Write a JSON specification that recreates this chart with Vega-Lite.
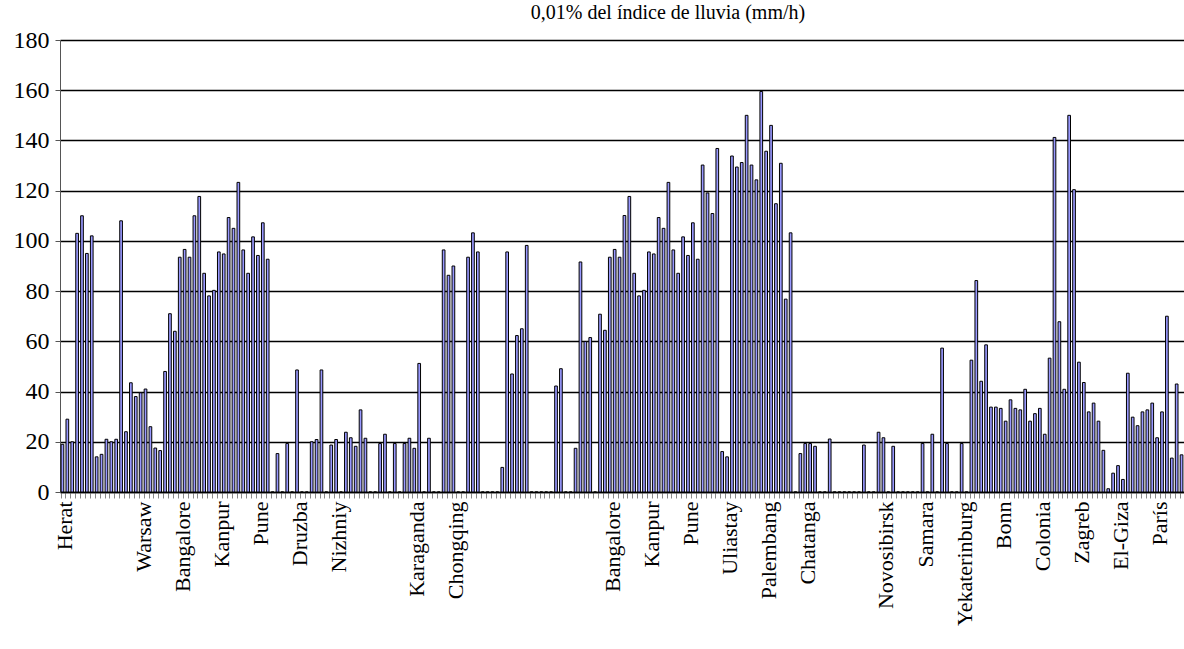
{
  "$schema": "https://vega.github.io/schema/vega-lite/v6.json",
  "autosize": {"type": "none"},
  "width": 1124,
  "height": 452,
  "padding": {"left": 60, "top": 40, "right": 0, "bottom": 157},
  "background": "white",
  "title": {"text": "0,01% del índice de lluvia (mm/h)", "font": "Liberation Serif", "fontSize": 20, "fontWeight": "normal", "color": "black", "anchor": "middle", "dx": 46, "offset": 5},
  "data": {"values": [
    {"k": "000|Herat", "v": 19}, {"k": "001|", "v": 29}, {"k": "002|", "v": 20}, {"k": "003|", "v": 103}, {"k": "004|", "v": 110},
    {"k": "005|", "v": 95}, {"k": "006|", "v": 102}, {"k": "007|", "v": 14}, {"k": "008|", "v": 15}, {"k": "009|", "v": 21},
    {"k": "010|", "v": 20}, {"k": "011|", "v": 21}, {"k": "012|", "v": 108}, {"k": "013|", "v": 24}, {"k": "014|", "v": 43.5},
    {"k": "015|", "v": 38}, {"k": "016|Warsaw", "v": 39.5}, {"k": "017|", "v": 41}, {"k": "018|", "v": 26}, {"k": "019|", "v": 17.5},
    {"k": "020|", "v": 16.5}, {"k": "021|", "v": 48}, {"k": "022|", "v": 71}, {"k": "023|", "v": 64}, {"k": "024|Bangalore", "v": 93.5},
    {"k": "025|", "v": 96.6}, {"k": "026|", "v": 93.5}, {"k": "027|", "v": 110}, {"k": "028|", "v": 117.7}, {"k": "029|", "v": 87.1},
    {"k": "030|", "v": 78.1}, {"k": "031|", "v": 80.3}, {"k": "032|Kanpur", "v": 95.6}, {"k": "033|", "v": 94.8}, {"k": "034|", "v": 109.3},
    {"k": "035|", "v": 105}, {"k": "036|", "v": 123.3}, {"k": "037|", "v": 96.4}, {"k": "038|", "v": 87.1}, {"k": "039|", "v": 101.6},
    {"k": "040|Pune", "v": 94.2}, {"k": "041|", "v": 107.2}, {"k": "042|", "v": 92.7}, {"k": "043|", "v": 0}, {"k": "044|", "v": 15.3},
    {"k": "045|", "v": 0}, {"k": "046|", "v": 19.3}, {"k": "047|", "v": 0}, {"k": "048|Druzba", "v": 48.6}, {"k": "049|", "v": 0},
    {"k": "050|", "v": 0}, {"k": "051|", "v": 20}, {"k": "052|", "v": 20.9}, {"k": "053|", "v": 48.6}, {"k": "054|", "v": 0},
    {"k": "055|", "v": 18.7}, {"k": "056|Nizhniy", "v": 20.9}, {"k": "057|", "v": 0}, {"k": "058|", "v": 23.8}, {"k": "059|", "v": 21.6},
    {"k": "060|", "v": 18.2}, {"k": "061|", "v": 32.7}, {"k": "062|", "v": 21.4}, {"k": "063|", "v": 0}, {"k": "064|", "v": 0},
    {"k": "065|", "v": 19.3}, {"k": "066|", "v": 23}, {"k": "067|", "v": 0}, {"k": "068|", "v": 19.3}, {"k": "069|", "v": 0},
    {"k": "070|", "v": 19.3}, {"k": "071|", "v": 21.4}, {"k": "072|Karaganda", "v": 17.4}, {"k": "073|", "v": 51.2}, {"k": "074|", "v": 0},
    {"k": "075|", "v": 21.4}, {"k": "076|", "v": 0}, {"k": "077|", "v": 0}, {"k": "078|", "v": 96.4}, {"k": "079|", "v": 86.3},
    {"k": "080|Chongqing", "v": 90}, {"k": "081|", "v": 0}, {"k": "082|", "v": 0}, {"k": "083|", "v": 93.5}, {"k": "084|", "v": 103.2},
    {"k": "085|", "v": 95.6}, {"k": "086|", "v": 0}, {"k": "087|", "v": 0}, {"k": "088|", "v": 0}, {"k": "089|", "v": 0},
    {"k": "090|", "v": 9.8}, {"k": "091|", "v": 95.6}, {"k": "092|", "v": 47}, {"k": "093|", "v": 62.3}, {"k": "094|", "v": 65},
    {"k": "095|", "v": 98.2}, {"k": "096|", "v": 0}, {"k": "097|", "v": 0}, {"k": "098|", "v": 0}, {"k": "099|", "v": 0},
    {"k": "100|", "v": 0}, {"k": "101|", "v": 42.2}, {"k": "102|", "v": 49.1}, {"k": "103|", "v": 0}, {"k": "104|", "v": 0},
    {"k": "105|", "v": 17.4}, {"k": "106|", "v": 91.6}, {"k": "107|", "v": 59.9}, {"k": "108|", "v": 61.5}, {"k": "109|", "v": 0},
    {"k": "110|", "v": 70.8}, {"k": "111|", "v": 64.4}, {"k": "112|Bangalore", "v": 93.5}, {"k": "113|", "v": 96.6}, {"k": "114|", "v": 93.5},
    {"k": "115|", "v": 110.1}, {"k": "116|", "v": 117.7}, {"k": "117|", "v": 87.1}, {"k": "118|", "v": 78.1}, {"k": "119|", "v": 80.3},
    {"k": "120|Kanpur", "v": 95.6}, {"k": "121|", "v": 94.8}, {"k": "122|", "v": 109.3}, {"k": "123|", "v": 105}, {"k": "124|", "v": 123.3},
    {"k": "125|", "v": 96.4}, {"k": "126|", "v": 87.1}, {"k": "127|", "v": 101.6}, {"k": "128|Pune", "v": 94.2}, {"k": "129|", "v": 107.2},
    {"k": "130|", "v": 92.7}, {"k": "131|", "v": 130.2}, {"k": "132|", "v": 119.1}, {"k": "133|", "v": 110.9}, {"k": "134|", "v": 136.8},
    {"k": "135|", "v": 16.1}, {"k": "136|Uliastay", "v": 14}, {"k": "137|", "v": 133.8}, {"k": "138|", "v": 129.4}, {"k": "139|", "v": 131.2},
    {"k": "140|", "v": 150}, {"k": "141|", "v": 130.2}, {"k": "142|", "v": 124.3}, {"k": "143|", "v": 159.5}, {"k": "144|Palembang", "v": 135.7},
    {"k": "145|", "v": 146}, {"k": "146|", "v": 114.8}, {"k": "147|", "v": 130.9}, {"k": "148|", "v": 76.8}, {"k": "149|", "v": 103.2},
    {"k": "150|", "v": 0}, {"k": "151|", "v": 15.3}, {"k": "152|Chatanga", "v": 19.3}, {"k": "153|", "v": 19.3}, {"k": "154|", "v": 18.2},
    {"k": "155|", "v": 0}, {"k": "156|", "v": 0}, {"k": "157|", "v": 21.1}, {"k": "158|", "v": 0}, {"k": "159|", "v": 0},
    {"k": "160|", "v": 0}, {"k": "161|", "v": 0}, {"k": "162|", "v": 0}, {"k": "163|", "v": 0}, {"k": "164|", "v": 18.7},
    {"k": "165|", "v": 0}, {"k": "166|", "v": 0}, {"k": "167|", "v": 23.8}, {"k": "168|Novosibirsk", "v": 21.6}, {"k": "169|", "v": 0},
    {"k": "170|", "v": 18.2}, {"k": "171|", "v": 0}, {"k": "172|", "v": 0}, {"k": "173|", "v": 0}, {"k": "174|", "v": 0},
    {"k": "175|", "v": 0}, {"k": "176|Samara", "v": 19.3}, {"k": "177|", "v": 0}, {"k": "178|", "v": 23}, {"k": "179|", "v": 0},
    {"k": "180|", "v": 57.3}, {"k": "181|", "v": 19.3}, {"k": "182|", "v": 0}, {"k": "183|", "v": 0}, {"k": "184|Yekaterinburg", "v": 19.3},
    {"k": "185|", "v": 0}, {"k": "186|", "v": 52.5}, {"k": "187|", "v": 84.2}, {"k": "188|", "v": 44.1}, {"k": "189|", "v": 58.6},
    {"k": "190|", "v": 33.8}, {"k": "191|", "v": 33.8}, {"k": "192|Bonn", "v": 33.3}, {"k": "193|", "v": 28.2}, {"k": "194|", "v": 36.7},
    {"k": "195|", "v": 33.3}, {"k": "196|", "v": 32.7}, {"k": "197|", "v": 40.9}, {"k": "198|", "v": 28.2}, {"k": "199|", "v": 31.2},
    {"k": "200|Colonia", "v": 33.3}, {"k": "201|", "v": 23}, {"k": "202|", "v": 53.3}, {"k": "203|", "v": 141.2}, {"k": "204|", "v": 67.8},
    {"k": "205|", "v": 40.9}, {"k": "206|", "v": 150}, {"k": "207|", "v": 120.4}, {"k": "208|Zagreb", "v": 51.7}, {"k": "209|", "v": 43.6},
    {"k": "210|", "v": 31.9}, {"k": "211|", "v": 35.4}, {"k": "212|", "v": 28.2}, {"k": "213|", "v": 16.6}, {"k": "214|", "v": 1.3},
    {"k": "215|", "v": 7.5}, {"k": "216|El-Giza", "v": 10.5}, {"k": "217|", "v": 5}, {"k": "218|", "v": 47.3}, {"k": "219|", "v": 29.8},
    {"k": "220|", "v": 26.4}, {"k": "221|", "v": 31.9}, {"k": "222|", "v": 32.7}, {"k": "223|", "v": 35.4}, {"k": "224|París", "v": 21.6},
    {"k": "225|", "v": 31.9}, {"k": "226|", "v": 70}, {"k": "227|", "v": 13.5}, {"k": "228|", "v": 43}, {"k": "229|", "v": 14.8}
  ]},
  "mark": {"type": "bar", "fill": "#9999FF", "stroke": "black", "strokeWidth": 1},
  "encoding": {
    "x": {
      "field": "k", "type": "ordinal", "sort": "ascending",
      "scale": {"paddingInner": 0.45, "paddingOuter": 0.225},
      "axis": {
        "title": null, "labelExpr": "slice(datum.label, 4)", "labelAngle": -90, "labelOverlap": false,
        "labelFont": "Liberation Serif", "labelFontSize": 22, "labelColor": "black", "labelPadding": 3, "labelBound": false,
        "labelOffset": 3,
        "bandPosition": 0, "tickColor": "#888888", "tickSize": 6, "tickWidth": 1,
        "domainColor": "black", "domainWidth": 1.5, "grid": false
      }
    },
    "y": {
      "field": "v", "type": "quantitative",
      "scale": {"domain": [0, 180], "nice": false},
      "axis": {
        "title": null, "values": [0, 20, 40, 60, 80, 100, 120, 140, 160, 180],
        "labelFont": "Liberation Serif", "labelFontSize": 24, "labelColor": "black", "labelPadding": 6,
        "tickColor": "#555555", "tickSize": 5, "domainColor": "#555555", "domainWidth": 1,
        "grid": true, "gridColor": "black", "gridWidth": 1.5, "gridOpacity": 1
      }
    }
  },
  "config": {"view": {"stroke": null}}
}
